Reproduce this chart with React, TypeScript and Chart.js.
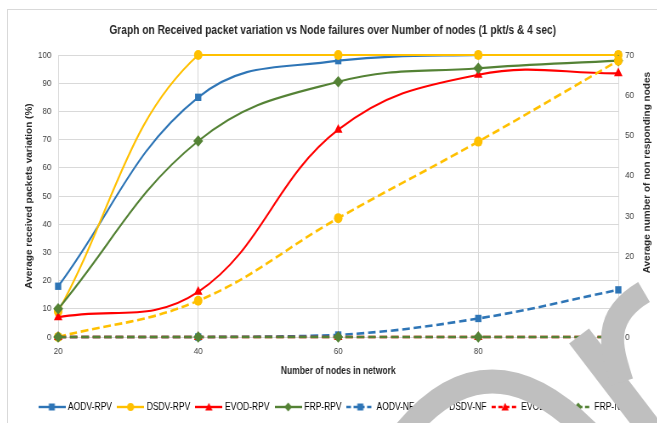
import React, { useEffect, useRef } from 'react';
import { Chart, registerables } from 'chart.js';

Chart.register(...registerables);

// ---- data ----
const nodeCounts = ['20', '40', '60', '80', '100'];
const seriesNames = ['AODV-RPV', 'DSDV-RPV', 'EVOD-RPV', 'FRP-RPV', 'AODV-NF', 'DSDV-NF', 'EVOD-NF', 'FRP-NF'];
const aodvRpv = [18, 85, 98, 100, 100];
const dsdvRpv = [9, 100, 100, 100, 100];
const evodRpv = [7, 16, 73.5, 93, 93.5];
const frpRpv = [10, 69.5, 90.5, 95.3, 98];
const aodvNf = [0, 0, 0.5, 4.6, 11.7];
const dsdvNf = [0, 9, 29.5, 48.5, 68.6];
const evodNf = [0, 0, 0, 0, 0];
const frpNf = [0, 0, 0, 0, 0];
const leftAxisMax = 100;
const rightAxisMax = 70;
const tickStep = 10;

const chartTitle = 'Graph on Received packet variation vs Node failures over Number of nodes (1 pkt/s & 4 sec)';
const xTitle = 'Number of nodes in network';
const yLeftTitle = 'Average received packets variation (%)';
const yRightTitle = 'Average number of non responding nodes';

const FONT = "'Liberation Sans', Arial, sans-serif";
const BLUE = '#2e75b6';
const YELLOW = '#ffc000';
const RED = '#ff0000';
const GREEN = '#548235';

// the picture is horizontally compressed; draw wide and squeeze
const SQ = 0.85;
const CW = 764;
const CH = 413;

export default function App() {
  const ref = useRef<HTMLCanvasElement | null>(null);

  useEffect(() => {
    const canvas = ref.current;
    if (!canvas) return;

    const values = [aodvRpv, dsdvRpv, evodRpv, frpRpv, aodvNf, dsdvNf, evodNf, frpNf];
    const colors = [BLUE, YELLOW, RED, GREEN, BLUE, YELLOW, RED, GREEN];
    const shapes = ['rect', 'circle', 'triangle', 'rectRot', 'rect', 'circle', 'triangle', 'rectRot'];
    const radii = [5.2, 5, 5.8, 5.8, 5.2, 5, 5.8, 5.8];
    const dashedFlags = [false, false, false, false, true, true, true, true];

    const makeLegendIcon = (i: number) => {
      const c = document.createElement('canvas');
      c.width = 32;
      c.height = 12;
      const g = c.getContext('2d')!;
      g.strokeStyle = colors[i];
      g.fillStyle = colors[i];
      g.lineWidth = 2.4;
      if (dashedFlags[i]) g.setLineDash([5, 3]);
      g.beginPath();
      g.moveTo(0, 6);
      g.lineTo(32, 6);
      g.stroke();
      g.setLineDash([]);
      const cx = 16, cy = 6;
      g.beginPath();
      const s = shapes[i];
      if (s === 'rect') g.rect(cx - 3.5, cy - 3.5, 7, 7);
      else if (s === 'circle') g.arc(cx, cy, 4, 0, Math.PI * 2);
      else if (s === 'triangle') { g.moveTo(cx, cy - 4.2); g.lineTo(cx + 4.3, cy + 3.6); g.lineTo(cx - 4.3, cy + 3.6); g.closePath(); }
      else { g.moveTo(cx, cy - 4.5); g.lineTo(cx + 4.5, cy); g.lineTo(cx, cy + 4.5); g.lineTo(cx - 4.5, cy); g.closePath(); }
      g.fill();
      return c;
    };
    const legendIcons = seriesNames.map((_, i) => makeLegendIcon(i));

    const datasets = seriesNames.map((name, i) => ({
      label: name,
      data: values[i],
      yAxisID: i < 4 ? 'y' : 'y1',
      borderColor: colors[i],
      backgroundColor: colors[i],
      borderWidth: dashedFlags[i] ? 2.6 : 2.1,
      borderDash: dashedFlags[i] ? [9, 4.5] : [],
      pointStyle: shapes[i],
      pointRadius: radii[i],
      pointBorderWidth: 0,
      pointBackgroundColor: colors[i],
      pointBorderColor: colors[i],
      tension: 0.4,
      fill: false,
      clip: false as any,
      order: seriesNames.length - i,
    }));

    const overlay = {
      id: 'overlay',
      afterDraw(chart: any) {
        const ctx = chart.ctx as CanvasRenderingContext2D;
        const area = chart.chartArea;
        // right axis title (reads bottom to top)
        ctx.save();
        ctx.font = `bold 10px ${FONT}`;
        ctx.fillStyle = '#262626';
        ctx.textAlign = 'right';
        ctx.textBaseline = 'middle';
        ctx.translate(752, area.top + 17);
        ctx.rotate(-Math.PI / 2);
        ctx.fillText(yRightTitle, 0, 0);
        ctx.restore();
        // grey swoosh over the lower right corner (screen coordinates)
        ctx.save();
        ctx.scale(1 / SQ, 1);
        ctx.strokeStyle = '#bfbfbf';
        ctx.lineCap = 'butt';
        ctx.lineWidth = 24;
        ctx.beginPath();
        ctx.moveTo(387, 435);
        ctx.quadraticCurveTo(479, 308, 592, 435);
        ctx.stroke();
        ctx.lineWidth = 25;
        ctx.beginPath();
        ctx.moveTo(571, 326);
        ctx.lineTo(646, 424);
        ctx.stroke();
        ctx.lineWidth = 23;
        ctx.beginPath();
        ctx.moveTo(614, 372);
        ctx.bezierCurveTo(604, 340, 592, 308, 636, 282);
        ctx.stroke();
        ctx.restore();
      },
    };

    const chart = new Chart(canvas, {
      type: 'line',
      data: { labels: nodeCounts, datasets: datasets as any },
      plugins: [overlay],
      options: {
        animation: false,
        responsive: false,
        maintainAspectRatio: false,
        layout: { padding: { top: 0, bottom: 1, left: 0, right: 0 } },
        plugins: {
          title: {
            display: true,
            text: chartTitle,
            color: '#262626',
            font: { family: FONT, size: 12, weight: 'bold' },
            padding: { top: 13, bottom: 17.6 },
          },
          legend: {
            position: 'bottom',
            labels: {
              usePointStyle: true,
              pointStyleWidth: 28,
              padding: 8,
              color: '#404040',
              font: { family: FONT, size: 10 },
              generateLabels: () =>
                seriesNames.map((name, i) => ({
                  text: name,
                  fillStyle: colors[i],
                  strokeStyle: colors[i],
                  lineWidth: 0,
                  pointStyle: legendIcons[i] as any,
                  hidden: false,
                  datasetIndex: i,
                })),
            },
          },
          tooltip: { enabled: false },
        },
        scales: {
          x: {
            type: 'category',
            offset: false,
            grid: { color: '#d9d9d9', drawTicks: false },
            border: { display: false },
            ticks: { color: '#404040', font: { family: FONT, size: 9.5 }, padding: 9 },
            title: {
              display: true,
              text: xTitle,
              color: '#262626',
              font: { family: FONT, size: 10, weight: 'bold' },
              padding: { top: 0, bottom: 17 },
            },
            afterFit: (s: any) => { s.height = 57; },
          },
          y: {
            position: 'left',
            min: 0,
            max: leftAxisMax,
            grid: { color: '#d9d9d9', drawTicks: false },
            border: { display: false },
            ticks: { stepSize: tickStep, color: '#404040', font: { family: FONT, size: 9.5 }, padding: 8 },
            title: {
              display: true,
              text: yLeftTitle,
              color: '#262626',
              font: { family: FONT, size: 10, weight: 'bold' },
              padding: { top: 19, bottom: 0 },
            },
            afterFit: (s: any) => { s.width = 59; },
          },
          y1: {
            position: 'right',
            min: 0,
            max: rightAxisMax,
            grid: { display: false, drawTicks: false },
            border: { display: false },
            ticks: { stepSize: tickStep, color: '#404040', font: { family: FONT, size: 9.5 }, padding: 8 },
            afterFit: (s: any) => { s.width = 46; },
          },
        },
      } as any,
    });

    return () => chart.destroy();
  }, []);

  return (
    <div
      style={{
        position: 'fixed',
        left: 7,
        top: 9,
        width: 650,
        height: 414,
        borderLeft: '1px solid #d9d9d9',
        borderTop: '1px solid #d9d9d9',
        boxSizing: 'border-box',
        background: '#fff',
        overflow: 'hidden',
      }}
    >
      <canvas
        ref={ref}
        width={CW}
        height={CH}
        style={{ display: 'block', transform: `scaleX(${SQ})`, transformOrigin: '0 0' }}
      />
    </div>
  );
}
